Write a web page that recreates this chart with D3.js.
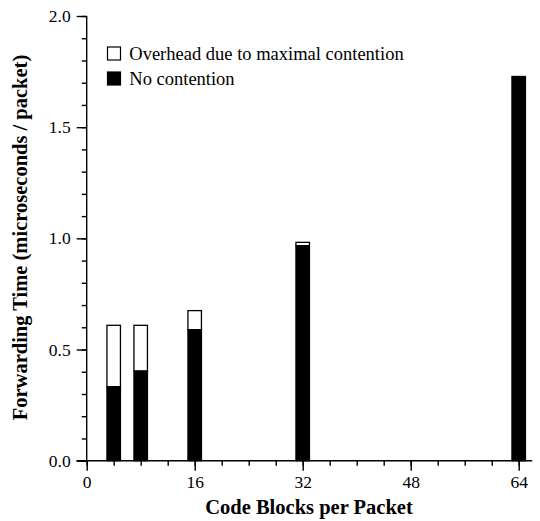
<!DOCTYPE html>
<html><head><meta charset="utf-8">
<script src="https://cdn.jsdelivr.net/npm/d3@7"></script>
<style>body{margin:0;background:#fff}</style>
</head><body>
<svg id="c" width="540" height="521"></svg>
<script>
const blocks = [4, 8, 16, 32, 64];
const noContention = [0.333, 0.403, 0.589, 0.967, 1.728];
const overhead = [0.276, 0.206, 0.086, 0.015, 0.0];
const xTicks = [0, 16, 32, 48, 64];
const yTicks = [0.0, 0.5, 1.0, 1.5, 2.0];
const legendLabels = ["Overhead due to maximal contention", "No contention"];

const svg = d3.select("#c");
const font = "'Liberation Serif','Times New Roman',serif";
const x = d3.scaleLinear().domain([0, 66]).range([86.7, 532.2]);
const y = d3.scaleLinear().domain([0, 2]).range([460.7, 16]);
const barW = x(2) - x(0);

// bars
const g = svg.append("g");
blocks.forEach((b, i) => {
  const tot = noContention[i] + overhead[i];
  if (overhead[i] > 0) {
    g.append("rect").attr("x", x(b) - barW/2).attr("width", barW)
      .attr("y", y(tot)).attr("height", y(noContention[i]) - y(tot))
      .attr("fill", "#fff").attr("stroke", "#000").attr("stroke-width", 1.3);
  }
  g.append("rect").attr("x", x(b) - barW/2).attr("width", barW)
    .attr("y", y(noContention[i])).attr("height", y(0) - y(noContention[i]))
    .attr("fill", "#000").attr("stroke", "#000").attr("stroke-width", 1.3);
});

// x axis
const xa = svg.append("g").attr("transform", `translate(0,${y(0)})`);
xa.call(d3.axisBottom(x).tickValues(d3.range(0, 65, 4)).tickSize(5).tickFormat(""));
xa.call(a => a.append("g").call(d3.axisBottom(x).tickValues(xTicks).tickSize(10).tickFormat(d3.format("d"))));
xa.selectAll(".domain").remove();
xa.append("line").attr("x1", 76.5).attr("x2", 532.2).attr("stroke", "#000").attr("stroke-width", 1.4);
xa.selectAll("line").attr("stroke", "#000").attr("stroke-width", 1.4);
xa.selectAll("text").attr("font-family", font).attr("font-size", 17.5).attr("fill", "#000").attr("dy", 0).attr("y", 27);

// y axis
const ya = svg.append("g").attr("transform", `translate(${x(0)},0)`);
ya.call(d3.axisLeft(y).tickValues(d3.range(0, 2.001, 0.1)).tickSize(5).tickFormat(""));
ya.call(a => a.append("g").call(d3.axisLeft(y).tickValues(yTicks).tickSize(10).tickFormat(d3.format(".1f"))));
ya.selectAll(".domain").remove();
ya.append("line").attr("y1", y(2)).attr("y2", y(0)).attr("stroke", "#000").attr("stroke-width", 1.4);
ya.selectAll("line").attr("stroke", "#000").attr("stroke-width", 1.4);
ya.selectAll("text").attr("font-family", font).attr("font-size", 17.5).attr("fill", "#000").attr("x", -16);

// axis titles
svg.append("text").attr("x", 309).attr("y", 514).attr("text-anchor", "middle")
  .attr("font-family", font).attr("font-size", 20.5).attr("font-weight", "bold")
  .text("Code Blocks per Packet");
svg.append("text").attr("transform", `translate(27,237.5) rotate(-90)`).attr("text-anchor", "middle")
  .attr("font-family", font).attr("font-size", 20.5).attr("font-weight", "bold")
  .text("Forwarding Time (microseconds / packet)");

// legend
const fills = ["#fff", "#000"];
legendLabels.forEach((t, i) => {
  const ly = 47 + i * 25;
  svg.append("rect").attr("x", 107.5).attr("y", ly).attr("width", 13).attr("height", 13)
    .attr("fill", fills[i]).attr("stroke", "#000").attr("stroke-width", 1.2);
  svg.append("text").attr("x", 129.3).attr("y", ly + 12.5)
    .attr("font-family", font).attr("font-size", 18.5).attr("fill", "#000").text(t);
});
</script>
</body></html>
